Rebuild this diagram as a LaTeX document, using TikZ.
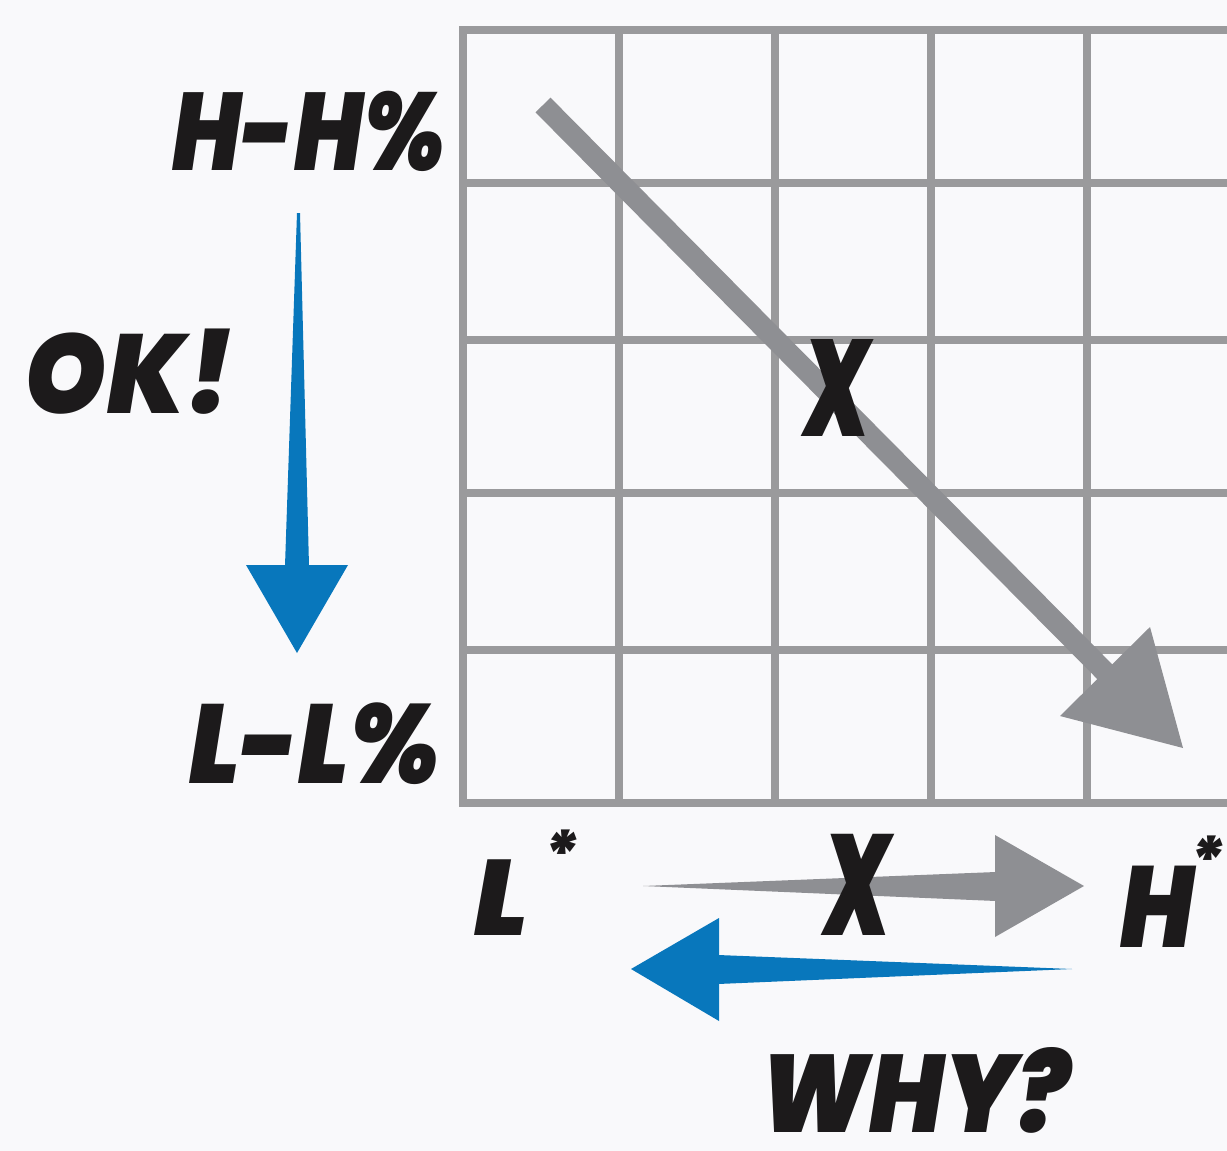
\documentclass[tikz,border=0pt]{standalone}
\usepackage{fontspec}
\newfontfamily\hand{Poppins}[UprightFont={* Black Italic}]
\definecolor{bg}{HTML}{F9F9FB}
\definecolor{gridc}{HTML}{9A9A9C}
\definecolor{arrgrey}{HTML}{8E8F93}
\definecolor{arrblue}{HTML}{0877BC}
\definecolor{ink}{HTML}{1C1A1B}
\tikzset{
  gridline/.style={draw=gridc, line width=8pt, line cap=rect},
  handtext/.style={text=ink, inner sep=0pt, font=\hand},
}
\newcommand{\fsz}[1]{\fontsize{#1}{#1}\selectfont}
\begin{document}
\begin{tikzpicture}[x=1pt,y=-1pt]
\fill[bg] (0,0) rectangle (1227,1151);
\useasboundingbox (0,0) rectangle (1227,1151);
% grid
\foreach \x in {463,619,775,931,1087} \draw[gridline] (\x,30) -- (\x,803);
\foreach \y in {30,183,340,493,650,803} \draw[gridline] (463,\y) -- (1240,\y);
% diagonal grey arrow
\coordinate (dA) at (543,105);
\coordinate (dB) at (1112,679);
\coordinate (dT) at (1183,748);
\coordinate (dH1) at (1150,627);
\coordinate (dH2) at (1060,716);
\draw[arrgrey, line width=21pt] (dA) -- (dB);
\fill[arrgrey] (dT) -- (dH1) -- (dH2) -- cycle;
% vertical blue arrow
\coordinate (vA) at (297,213);
\coordinate (vT) at (297,653);
\fill[arrblue] (vA) -- ++(3,0) -- (309,566) -- (285,566) -- cycle;
\fill[arrblue] (vT) -- (246,565) -- (348,565) -- cycle;
% grey horizontal arrow
\coordinate (gA) at (643,886);
\coordinate (gT) at (1084,886);
\fill[arrgrey] (gA) -- (996,872) -- (996,901) -- cycle;
\fill[arrgrey] (gT) -- (995,835) -- (995,937) -- cycle;
% blue horizontal arrow
\coordinate (bA) at (1072,969);
\coordinate (bT) at (631,969);
\fill[arrblue] (bA) -- (718,955) -- (718,984) -- cycle;
\fill[arrblue] (bT) -- (719,918) -- (719,1021) -- cycle;
% texts
\node[handtext, anchor=base] (hh) at (309,170) {\fsz{110}\scalebox{0.83}[1]{H-H\%}};
\node[handtext, anchor=base] (ok) at (129,413) {\fsz{112}\scalebox{0.93}[1]{OK!}};
\node[handtext, anchor=base] (ll) at (315,783) {\fsz{112}\scalebox{0.9}[1]{L-L\%}};
\node[handtext, anchor=base] (x1) at (837,436) {\fsz{137}\scalebox{0.62}[1]{X}};
\node[handtext, anchor=base] (x2) at (857,935) {\fsz{143}\scalebox{0.6}[1]{X}};
\node[handtext, anchor=base west] (ls) at (474,935) {\fsz{107}L\hspace{14pt}\raisebox{58pt}{\fsz{64}*}};
\node[handtext, anchor=base west] (hs) at (1120,947) {\fsz{115}\scalebox{0.85}[1]{H}\hspace{-6pt}\raisebox{64pt}{\fsz{64}*}};
\node[handtext, anchor=base] (why) at (915,1132) {\fsz{110}\scalebox{0.9}[1]{WHY?}};
\end{tikzpicture}
\end{document}
